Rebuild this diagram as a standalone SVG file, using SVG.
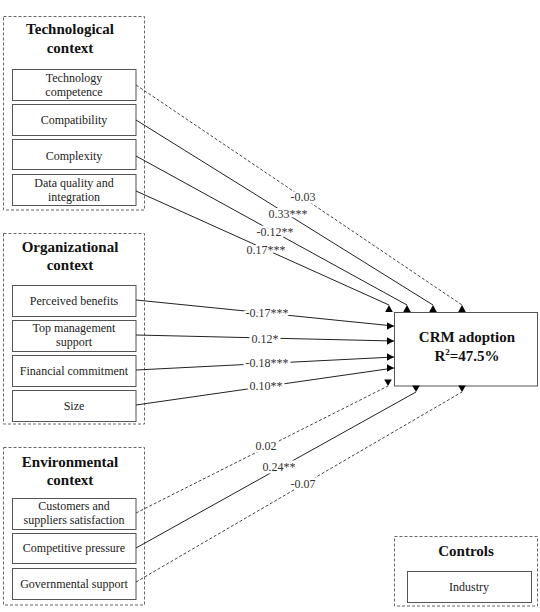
<svg xmlns="http://www.w3.org/2000/svg" width="540" height="612" viewBox="0 0 540 612">
<style>
.grp{fill:none;stroke:#666;stroke-width:1;stroke-dasharray:3,2}
.box{fill:#fff;stroke:#555;stroke-width:1}
.ttl{font-family:"Liberation Serif","Times New Roman",serif;font-weight:bold;font-size:15px;fill:#111;text-anchor:middle}
.t{font-family:"Liberation Serif","Times New Roman",serif;font-size:12px;fill:#222;text-anchor:middle}
.lbl{font-family:"Liberation Serif","Times New Roman",serif;font-size:12px;fill:#333;text-anchor:middle;stroke:#fff;stroke-width:5;paint-order:stroke;stroke-linejoin:round}
.ln{fill:none;stroke:#222;stroke-width:1}
.dl{fill:none;stroke:#444;stroke-width:1;stroke-dasharray:3,2}
.up{marker-end:url(#aUp)}
.rt{marker-end:url(#aRt)}
.dn{marker-end:url(#aDn)}
</style>
<defs>
<marker id="aUp" markerUnits="userSpaceOnUse" markerWidth="10" markerHeight="10" refX="0" refY="0" orient="0" overflow="visible"><path d="M0,0 L-3.8,7 L3.8,7 Z" fill="#000" stroke="none"/></marker>
<marker id="aRt" markerUnits="userSpaceOnUse" markerWidth="10" markerHeight="10" refX="0" refY="0" orient="0" overflow="visible"><path d="M0,0 L-7,-3.8 L-7,3.8 Z" fill="#000" stroke="none"/></marker>
<marker id="aDn" markerUnits="userSpaceOnUse" markerWidth="10" markerHeight="10" refX="0" refY="0" orient="0" overflow="visible"><path d="M0,0 L-3.8,-6.5 L3.8,-6.5 Z" fill="#000" stroke="none"/></marker>
</defs>
<rect width="540" height="612" fill="#fff"/>

<g id="technological-context">
<rect class="grp" x="3.5" y="16.5" width="141" height="193.5"/>
<text class="ttl" x="70" y="34">Technological</text>
<text class="ttl" x="70" y="53">context</text>
</g>
<g id="technology-competence"><rect class="box" x="12.5" y="69.5" width="123.5" height="31"/><text class="t" x="74" y="82">Technology</text><text class="t" x="74" y="96">competence</text></g>
<g id="compatibility"><rect class="box" x="12.5" y="104.5" width="123.5" height="31"/><text class="t" x="74" y="124">Compatibility</text></g>
<g id="complexity"><rect class="box" x="12.5" y="139.5" width="123.5" height="30"/><text class="t" x="74" y="160">Complexity</text></g>
<g id="data-quality"><rect class="box" x="12.5" y="174.5" width="123.5" height="31"/><text class="t" x="74" y="187">Data quality and</text><text class="t" x="74" y="201">integration</text></g>

<g id="organizational-context">
<rect class="grp" x="3.5" y="233.5" width="141" height="190.5"/>
<text class="ttl" x="70" y="252">Organizational</text>
<text class="ttl" x="70" y="270">context</text>
</g>
<g id="perceived-benefits"><rect class="box" x="12.5" y="285.5" width="123.5" height="31"/><text class="t" x="74" y="305">Perceived benefits</text></g>
<g id="top-management"><rect class="box" x="12.5" y="320.5" width="123.5" height="31"/><text class="t" x="74" y="332">Top management</text><text class="t" x="74" y="346">support</text></g>
<g id="financial-commitment"><rect class="box" x="12.5" y="355.5" width="123.5" height="31"/><text class="t" x="74" y="375">Financial commitment</text></g>
<g id="size"><rect class="box" x="12.5" y="390.5" width="123.5" height="31"/><text class="t" x="74" y="410">Size</text></g>

<g id="environmental-context">
<rect class="grp" x="3.5" y="447.5" width="141" height="157.5"/>
<text class="ttl" x="70" y="467">Environmental</text>
<text class="ttl" x="70" y="485">context</text>
</g>
<g id="customers-suppliers"><rect class="box" x="12.5" y="498.5" width="123.5" height="31"/><text class="t" x="74" y="510">Customers and</text><text class="t" x="74" y="524">suppliers satisfaction</text></g>
<g id="competitive-pressure"><rect class="box" x="12.5" y="533.5" width="123.5" height="30"/><text class="t" x="74" y="552">Competitive pressure</text></g>
<g id="governmental-support"><rect class="box" x="12.5" y="568.5" width="123.5" height="31"/><text class="t" x="74" y="588">Governmental support</text></g>

<g id="crm-adoption">
<rect class="box" x="394.5" y="312.5" width="143" height="73.5" stroke="#333"/>
<text class="ttl" x="467" y="342" font-size="14">CRM adoption</text>
<text class="ttl" x="467" y="361" font-size="14">R<tspan font-size="9" dy="-6">2</tspan><tspan dy="6">=47.5%</tspan></text>
</g>

<g id="controls">
<rect class="grp" x="394.5" y="536.5" width="143" height="69.5"/>
<text class="ttl" x="466" y="556">Controls</text>
<rect class="box" x="407.5" y="571.5" width="124" height="31"/>
<text class="t" x="469" y="591" font-size="11.5">Industry</text>
</g>

<g id="connectors">
<line class="dl up" x1="136" y1="85" x2="462" y2="305"/>
<line class="ln up" x1="136" y1="120" x2="433" y2="305"/>
<line class="ln up" x1="136" y1="156" x2="407" y2="305"/>
<line class="ln up" x1="136" y1="191" x2="389" y2="305"/>
<line class="ln rt" x1="136" y1="300" x2="394" y2="326"/>
<line class="ln rt" x1="136" y1="335" x2="394" y2="341"/>
<line class="ln rt" x1="136" y1="370" x2="394" y2="357"/>
<line class="ln rt" x1="136" y1="405" x2="394" y2="368"/>
<line class="dl dn" x1="136" y1="513" x2="388" y2="386"/>
<line class="ln dn" x1="136" y1="548" x2="416" y2="392"/>
<line class="dl dn" x1="136" y1="582" x2="462" y2="392"/>
<text class="lbl" x="303" y="201">-0.03</text>
<text class="lbl" x="288" y="218">0.33***</text>
<text class="lbl" x="275" y="236">-0.12**</text>
<text class="lbl" x="266" y="254">0.17***</text>
<text class="lbl" x="267" y="317">-0.17***</text>
<text class="lbl" x="265" y="343">0.12*</text>
<text class="lbl" x="267" y="367">-0.18***</text>
<text class="lbl" x="266" y="390">0.10**</text>
<text class="lbl" x="266" y="450">0.02</text>
<text class="lbl" x="279" y="471">0.24**</text>
<text class="lbl" x="303" y="488">-0.07</text>
</g>
</svg>
